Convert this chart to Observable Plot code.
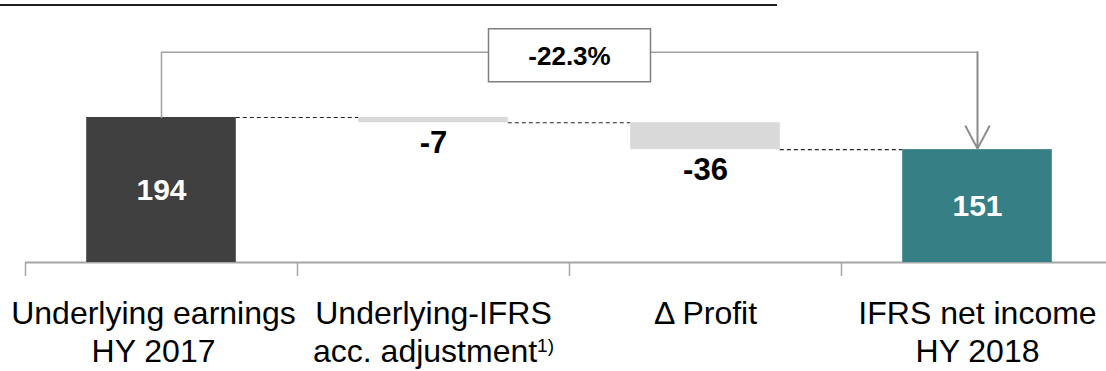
<!DOCTYPE html>
<html>
<head>
<meta charset="utf-8">
<script src="https://cdn.jsdelivr.net/npm/d3@7"></script>
<script src="https://cdn.jsdelivr.net/npm/@observablehq/plot@0.6"></script>
<style>
  html, body { margin: 0; padding: 0; background: #ffffff; overflow: hidden; }
  #wrap { position: relative; width: 1106px; height: 371px; }
  #headline-rule { position: absolute; left: 0; top: 4px; width: 777px; height: 2px; background: #1e1e1e; }
  #wrap svg { position: absolute; left: 0; top: 0; }
</style>
</head>
<body>
<div id="wrap"><div id="headline-rule"></div></div>
<script>
// Bridge from underlying earnings HY 2017 to IFRS net income HY 2018 (EUR m)
const SUP = "\u00b9\u207e"; // footnote marker, set as raised "1)"
const categories = [
  "Underlying earnings\nHY 2017",
  "Underlying-IFRS\nacc. adjustment" + SUP,
  "\u0394 Profit",
  "IFRS net income\nHY 2018"
];
const values = [194, -7, -36, 151];
const kinds = ["total", "delta", "delta", "total"];
const valueLabels = ["194", "-7", "-36", "151"];
const barColors = ["#404040", "#d9d9d9", "#d9d9d9", "#367f84"];
const changeLabel = "-22.3%";

// Waterfall geometry: totals start at zero, deltas hang from the running level
let running = 0;
const rows = categories.map((cat, i) => {
  const v = values[i];
  let y1, y2;
  if (kinds[i] === "total") { y1 = 0; y2 = v; running = v; }
  else { y1 = running; y2 = running + v; running += v; }
  return {i, cat, v, y1, y2, lo: Math.min(y1, y2), hi: Math.max(y1, y2),
          kind: kinds[i], label: valueLabels[i], color: barColors[i]};
});

const half = 0.275; // half bar width in category steps
const connectors = rows.slice(0, -1).map(r => ({
  x1: r.i + half, x2: r.i + 1 - half, level: r.kind === "total" ? r.v : r.y2
}));

const first = rows[0], last = rows[rows.length - 1];
const bracketLevel = first.hi * 1.45;
const mid = (first.i + last.i) / 2;
const bracket = [
  {x: first.i, y: first.hi},
  {x: first.i, y: bracketLevel},
  {x: last.i, y: bracketLevel}
];
const boxSymbol = { draw(ctx) { ctx.rect(-81, -26.5, 162, 53); } };
const boundaries = d3.range(categories.length).map(i => i - 0.5);

const font = "'Liberation Sans', Arial, Helvetica, sans-serif";
const catLabel = {fill: "black", fontSize: 32, lineAnchor: "top", dy: 35, lineHeight: 1.17};

const chart = Plot.plot({
  width: 1106,
  height: 371,
  marginTop: 0,
  marginRight: 0,
  marginBottom: 109,
  marginLeft: 25,
  style: {fontFamily: font, background: "transparent", overflow: "visible"},
  x: {type: "linear", domain: [-0.5, categories.length - 0.5], range: [25, 1113], axis: null},
  y: {domain: [0, first.hi], range: [262, 117], axis: null},
  marks: [
    // baseline and category separators
    Plot.ruleY([0], {stroke: "#a6a6a6", strokeWidth: 2}),
    Plot.axisX(boundaries, {anchor: "bottom", tickSize: 14, tickFormat: () => "", stroke: "#a6a6a6", strokeWidth: 1.5}),
    // dashed connectors between bars
    Plot.ruleY(connectors, {y: "level", x1: "x1", x2: "x2", stroke: "#262626", strokeWidth: 1.2, strokeDasharray: "4,3"}),
    // bars
    Plot.rect(rows, {x1: d => d.i - half, x2: d => d.i + half, y1: "lo", y2: "hi", fill: "color"}),
    // labels inside totals
    Plot.text(rows.filter(d => d.kind === "total"), {
      x: "i", y: d => (d.lo + d.hi) / 2, text: "label",
      fill: "white", fontSize: 30, fontWeight: "bold"
    }),
    // labels below deltas
    Plot.text(rows.filter(d => d.kind === "delta"), {
      x: "i", y: "lo", text: "label", lineAnchor: "top", dy: 8,
      fill: "black", fontSize: 31, fontWeight: "bold"
    }),
    // category labels (the widest one sits slightly left of its slot)
    Plot.text(rows.slice(0, 1), {x: "i", y: () => 0, text: "cat", dx: -8, ...catLabel}),
    Plot.text(rows.slice(1), {x: "i", y: () => 0, text: "cat", ...catLabel}),
    // change bracket
    Plot.line(bracket, {x: "x", y: "y", stroke: "#a0a0a0", strokeWidth: 1.5, curve: "linear"}),
    Plot.arrow([{x: last.i, y1: bracketLevel, y2: last.hi}], {
      x1: "x", x2: "x", y1: "y1", y2: "y2", stroke: "#8c8c8c", strokeWidth: 2,
      headLength: 19, headAngle: 56, insetEnd: 1
    }),
    Plot.dot([{x: mid, y: bracketLevel}], {
      x: "x", y: "y", symbol: boxSymbol, r: 1, dy: 3,
      fill: "white", stroke: "#7f7f7f", strokeWidth: 1.5
    }),
    Plot.text([{x: mid, y: bracketLevel, t: changeLabel}], {
      x: "x", y: "y", text: "t", dy: 4, fill: "black", fontSize: 26, fontWeight: "bold"
    })
  ]
});

// Set the footnote marker as a small raised "1)"
const svgNS = "http://www.w3.org/2000/svg";
chart.querySelectorAll("tspan, text").forEach(node => {
  if (node.childElementCount === 0 && node.textContent.endsWith(SUP)) {
    node.textContent = node.textContent.slice(0, -SUP.length);
    const sup = document.createElementNS(svgNS, "tspan");
    sup.setAttribute("font-size", "19");
    sup.setAttribute("dy", "-10");
    sup.textContent = "1)";
    node.appendChild(sup);
  }
});

document.getElementById("wrap").prepend(chart);
</script>
</body>
</html>
